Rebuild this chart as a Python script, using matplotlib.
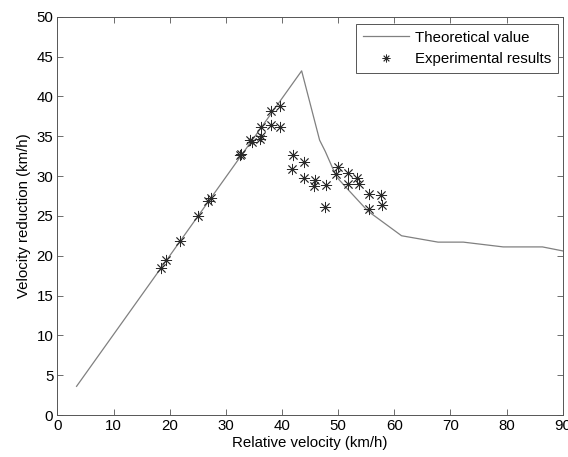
import numpy as np
import matplotlib.pyplot as plt

plt.rcParams['font.family'] = ['Liberation Sans', 'DejaVu Sans']

# theoretical curve
theo_v = [3.4, 43.5, 46.7, 47.7, 49.7, 51.5, 55.3, 61.3, 67.8, 72.3, 79.4, 86.4, 90.0]
theo_r = [3.6, 43.2, 34.5, 33.1, 29.9, 28.5, 25.6, 22.5, 21.7, 21.7, 21.1, 21.1, 20.6]

# experimental points
exp_v = [18.5, 19.3, 21.8, 24.95, 26.8, 27.4, 32.5, 32.7, 34.3, 34.6, 36.1, 36.2,
         36.2, 38.0, 38.0, 39.6, 39.6, 41.9, 41.8, 43.9, 43.9, 45.9, 45.7, 47.9,
         47.6, 49.9, 49.6, 51.8, 51.7, 53.4, 53.8, 55.5, 57.6, 57.8, 55.5]
exp_r = [18.5, 19.4, 21.8, 25.0, 26.9, 27.3, 32.6, 32.7, 34.5, 34.3, 34.7, 35.0,
         36.2, 36.4, 38.1, 38.8, 36.1, 32.6, 30.9, 31.7, 29.8, 29.5, 28.8, 28.9,
         26.1, 31.1, 30.2, 30.4, 29.0, 29.8, 29.0, 27.8, 27.6, 26.4, 25.8]

fs = 10.8

fig = plt.figure(figsize=(5.68, 4.57), dpi=100)
ax = fig.add_axes([0.1012, 0.0919, 0.8894, 0.8716])

ax.plot(theo_v, theo_r, color='#808080', lw=0.9, label='Theoretical value')
ax.plot(exp_v, exp_r, ls='none', marker=(8, 2, 0), ms=8, mew=0.6,
        color='#2a2a2a', label='Experimental results')

ax.set_xlim(0, 90)
ax.set_ylim(0, 50)
ax.set_xticks(np.arange(0, 91, 10))
ax.set_yticks(np.arange(0, 51, 5))
ax.tick_params(direction='in', top=True, right=True, labelsize=fs,
               length=4, width=0.6, color='#555555', pad=3)
for s in ax.spines.values():
    s.set_color('#555555')
    s.set_linewidth(0.7)

ax.set_xlabel('Relative velocity (km/h)', fontsize=fs, labelpad=2)
ax.set_ylabel('Velocity reduction (km/h)', fontsize=fs, labelpad=4)

leg = ax.legend(loc='upper right', bbox_to_anchor=(0.9907, 0.9817),
                fontsize=fs, fancybox=False, edgecolor='#555555',
                framealpha=1, handlelength=3.07, handletextpad=0.4,
                markerscale=0.7, borderaxespad=0, borderpad=0.45,
                labelspacing=0.5)
leg.get_frame().set_linewidth(0.7)

fig.savefig('out.png', dpi=100)
